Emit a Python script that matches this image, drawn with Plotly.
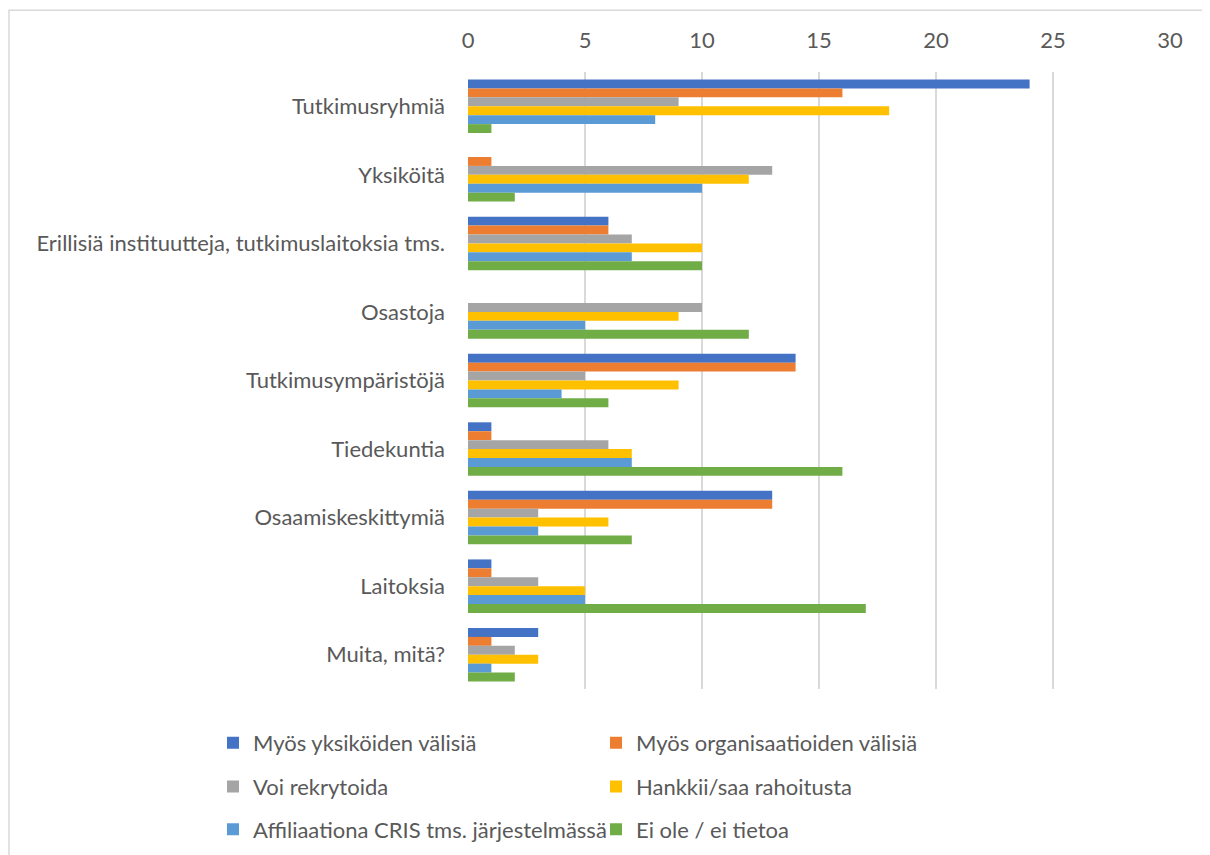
import plotly.graph_objects as go

categories = ["Tutkimusryhmiä", "Yksiköitä", "Erillisiä instituutteja, tutkimuslaitoksia tms.",
              "Osastoja", "Tutkimusympäristöjä", "Tiedekuntia", "Osaamiskeskittymiä",
              "Laitoksia", "Muita, mitä?"]
series_names = ["Myös yksiköiden välisiä", "Myös organisaatioiden välisiä", "Voi rekrytoida",
                "Hankkii/saa rahoitusta", "Affiliaationa CRIS tms. järjestelmässä", "Ei ole / ei tietoa"]
yksikoiden = [24, 0, 6, 0, 14, 1, 13, 1, 3]
organisaatioiden = [16, 1, 6, 0, 14, 1, 13, 1, 1]
rekrytoida = [9, 13, 7, 10, 5, 6, 3, 3, 2]
rahoitusta = [18, 12, 10, 9, 9, 7, 6, 5, 3]
affiliaationa = [8, 10, 7, 5, 4, 7, 3, 5, 1]
ei_tietoa = [1, 2, 10, 12, 6, 16, 7, 17, 2]
x_ticks = [0, 5, 10, 15, 20, 25, 30]

series_values = [yksikoiden, organisaatioiden, rekrytoida, rahoitusta, affiliaationa, ei_tietoa]
colors = ["#4472C4", "#ED7D31", "#A5A5A5", "#FFC000", "#5B9BD5", "#70AD47"]
legend_ids = ["legend", "legend", "legend2", "legend2", "legend3", "legend3"]

FONT = "Lato"
TXT = "#595959"
FS = 22

fig = go.Figure()
for name, vals, col, lg in zip(series_names, series_values, colors, legend_ids):
    fig.add_trace(go.Bar(
        y=categories, x=vals, name=name, orientation="h",
        marker=dict(color=col, line=dict(width=0)), legend=lg,
    ))

W, H = 1210, 855
OFF = 8  # page body offset
L, R, T, B = 460, 48, 64, 172
pw = W - L - R
ph = H - T - B

def px_x(x):
    xs = x - OFF
    return (xs - L) / pw

def px_y(y):
    ys = y - OFF
    return (H - B - ys) / ph

leg_common = dict(orientation="h", font=dict(family=FONT, size=FS, color=TXT),
                  entrywidth=338, entrywidthmode="pixels", xanchor="left", yanchor="middle",
                  bgcolor="rgba(0,0,0,0)", itemclick=False, itemdoubleclick=False)

fig.update_layout(
    width=W, height=H,
    margin=dict(l=L, r=R, t=T, b=B),
    paper_bgcolor="white", plot_bgcolor="white",
    barmode="group", bargap=0.22, bargroupgap=0,
    font=dict(family=FONT, size=FS, color=TXT),
    xaxis=dict(side="top", range=[0, 30], tickvals=x_ticks, showgrid=True,
               gridcolor="#D9D9D9", gridwidth=1.5, zeroline=False,
               showline=False, ticks="", ticklabelstandoff=19,
               tickfont=dict(family=FONT, size=FS, color=TXT), fixedrange=True),
    yaxis=dict(autorange="reversed", showgrid=False, zeroline=False, showline=False,
               ticks="", ticklabelstandoff=22,
               tickfont=dict(family=FONT, size=FS, color=TXT), fixedrange=True),
    legend=dict(x=px_x(213), y=px_y(742 + 3), **leg_common),
    legend2=dict(x=px_x(213), y=px_y(786 + 3), **leg_common),
    legend3=dict(x=px_x(213), y=px_y(829 + 3), **leg_common),
    shapes=[dict(type="rect", xref="paper", yref="paper",
                 x0=px_x(OFF + 1), x1=px_x(1225), y0=px_y(870), y1=px_y(10),
                 line=dict(color="#D9D9D9", width=1.5), layer="below")],
)

fig.write_html("out.html")
